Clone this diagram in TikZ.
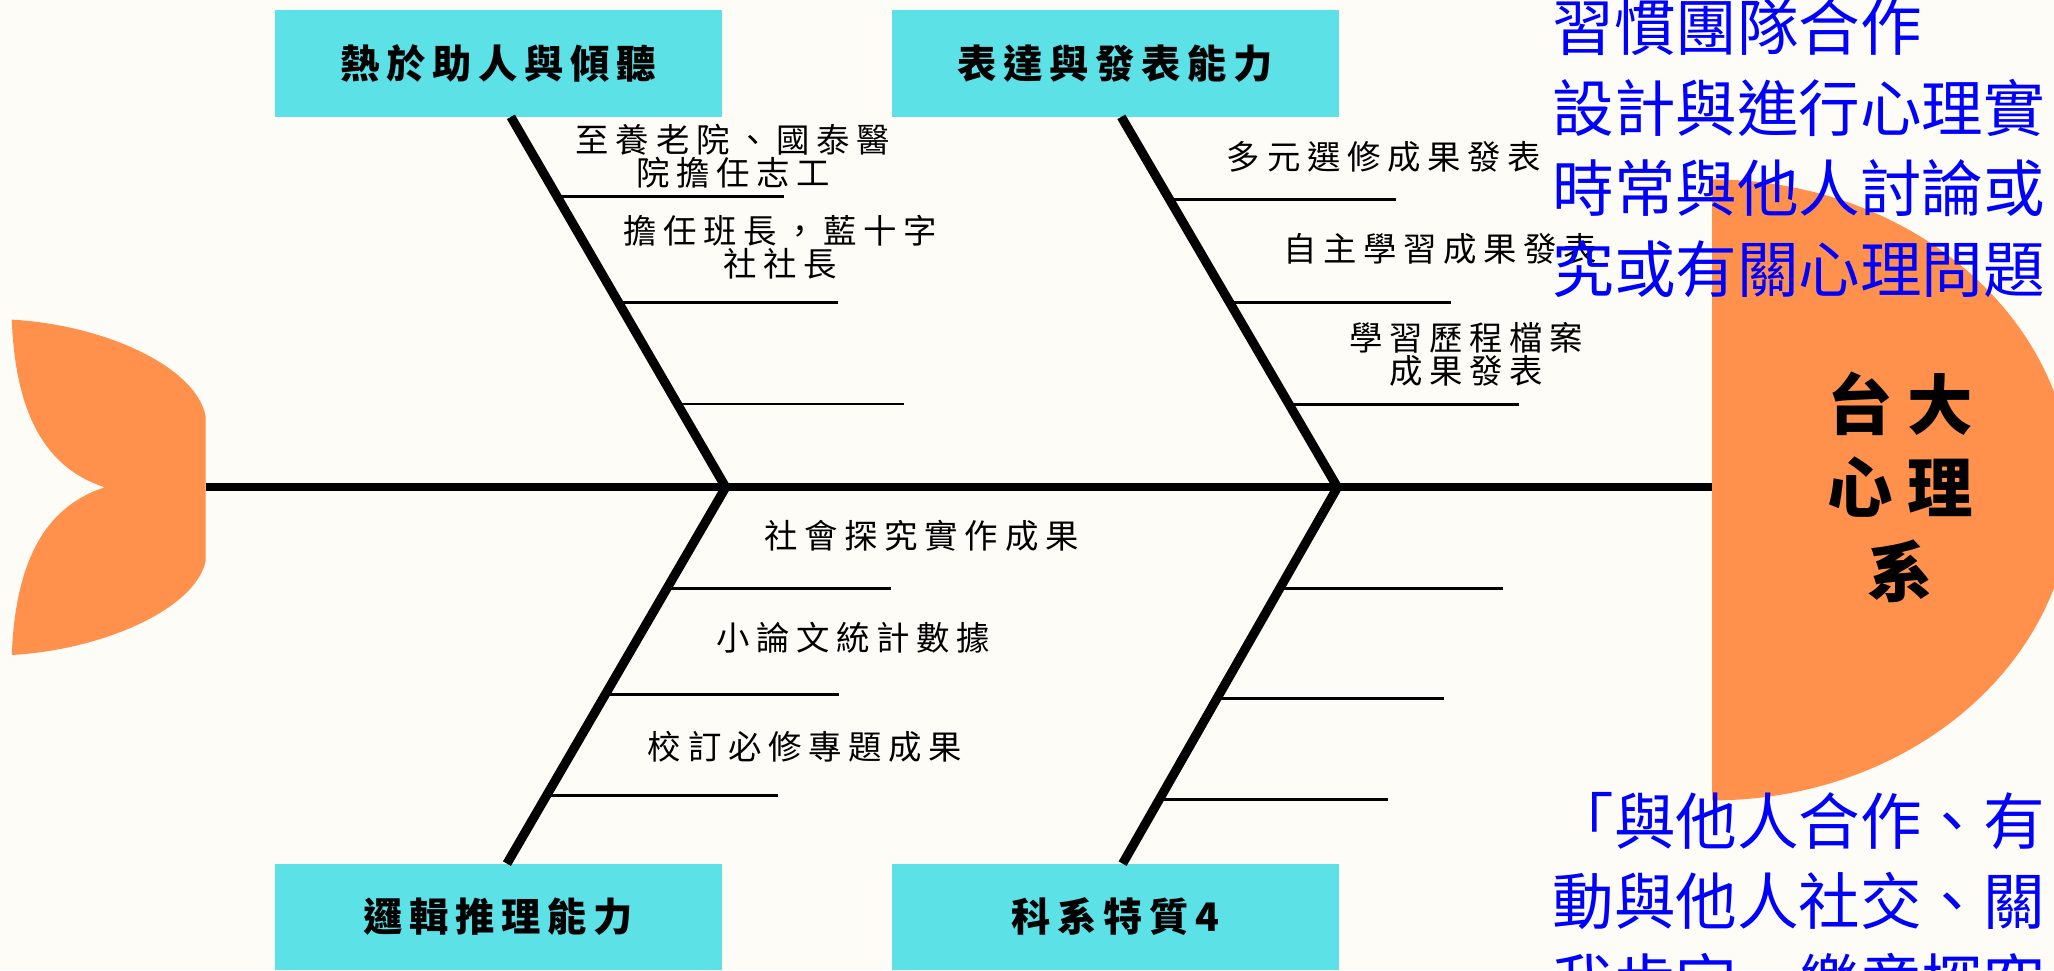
\documentclass[tikz,border=0pt]{standalone}
\usepackage{fontspec}
\setmainfont{Noto Sans CJK TC}
\newfontfamily\catfont[LetterSpace=17]{Noto Sans CJK TC}
\newfontfamily\headfont[LetterSpace=22]{Noto Sans CJK TC}
\newfontfamily\itemfont[LetterSpace=20]{Noto Sans CJK TC}
\newfontfamily\notefont{Noto Sans CJK TC}
\usetikzlibrary{calc}

\definecolor{paper}{RGB}{253,252,247}
\definecolor{fishcyan}{RGB}{92,225,230}
\definecolor{fishorange}{RGB}{255,145,77}
\definecolor{noteblue}{RGB}{0,0,255}

\tikzset{
	catbox/.style={fill=fishcyan, minimum width=341pt, minimum height=81pt, inner sep=0pt,
		font=\catfont\bfseries\fontsize{30}{32}\selectfont},
	headlabel/.style={align=center, inner sep=0pt, xshift=5.5pt,
		font=\headfont\bfseries\fontsize{50}{63.5}\selectfont},
	spine/.style={line width=6pt},
	bone/.style={line width=7pt},
	rib/.style={line width=2.2pt},
	item/.style={align=center, inner sep=0pt, xshift=2.5pt,
		font=\itemfont\fontsize{25.5}{25}\selectfont},
	note/.style={align=left, anchor=west, inner sep=0pt, text=noteblue,
		font=\notefont\fontsize{47}{61.5}\selectfont},
}

\begin{document}
\begin{tikzpicture}[x=1pt,y=-1pt]
	\fill[paper] (0,0) rectangle (1568,740.5);
	\useasboundingbox (0,0) rectangle (1568,740.5);
	
	%Schwanz und Kopf
	\fill[fishorange] (9,244) .. controls (80,248) and (150,280) .. (157,318) -- (157,428)
		.. controls (150,464) and (80,496) .. (9,500) .. controls (12,420) and (40,385) .. (80,372)
		.. controls (40,359) and (12,324) .. (9,244) -- cycle;
	\fill[fishorange] (1307,137) arc[start angle=90, end angle=-90, x radius=275pt, y radius=237pt] -- cycle;
	
	%Hauptgraete
	\coordinate (tail) at (157,372);
	\coordinate (head) at (1307,372);
	\coordinate (j1) at (554,372);
	\coordinate (j2) at (1021,372);
	\draw[spine] (tail) -- (head);
	
	%Kategorien
	\node[catbox] (c1) at (380.5,48.5) {熱於助人與傾聽};
	\node[catbox] (c2) at (851.5,48.5) {表達與發表能力};
	\node[catbox] (c3) at (380.5,700) {邏輯推理能力};
	\node[catbox] (c4) at (851.5,700) {科系特質4};
	
	\coordinate (b1) at ($(c1.south)+(9.5,0)$);
	\coordinate (b2) at ($(c2.south)+(4.5,0)$);
	\coordinate (b3) at ($(c3.north)+(6.5,0)$);
	\coordinate (b4) at ($(c4.north)+(5.5,0)$);
	\draw[bone] (b1) -- (j1) -- (b3);
	\draw[bone] (b2) -- (j2) -- (b4);
	
	%Nebengraeten
	\foreach \t/\l [count=\i] in {0.215/173,0.5/168,0.775/173}
	\draw[rib] ($(b1)!\t!(j1)$) coordinate (ul\i) -- ++(\l,0);
	\foreach \t/\l [count=\i] in {0.223/173,0.502/169,0.777/175}
	\draw[rib] ($(b2)!\t!(j2)$) coordinate (ur\i) -- ++(\l,0);
	\foreach \t/\l [count=\i] in {0.27/171,0.55/178,0.82/177}
	\draw[rib] ($(j1)!\t!(b3)$) coordinate (ll\i) -- ++(\l,0);
	\foreach \t/\l [count=\i] in {0.27/171,0.56/173,0.83/175}
	\draw[rib] ($(j2)!\t!(b4)$) coordinate (lr\i) -- ++(\l,0);
	
	%Texte
	\node[item] (i1) at (557,119.5) {至養老院、國泰醫\\院擔任志工};
	\node[item] (i2) at (593,189) {擔任班長，藍十字\\社社長};
	\node[item] (i3) at (1054,120) {多元選修成果發表};
	\node[item] (i4) at (1097,190) {自主學習成果發表};
	\node[item] (i5) at (1117,270.5) {學習歷程檔案\\成果發表};
	\node[item] (i6) at (701,409) {社會探究實作成果};
	\node[item] (i7) at (649,487) {小論文統計數據};
	\node[item] (i8) at (612,570) {校訂必修專題成果};
	
	\node[headlabel] (dept) at (1445,372) {台大\\心理\\系};
	
	\node[note] (n1) at (1185,113) {習慣團隊合作\\設計與進行心理實\\時常與他人討論或\\究或有關心理問題};
	\node[note] (n2) at (1185,688) {「與他人合作、有\\動與他人社交、關\\我肯定、樂意探究};
	
\end{tikzpicture}
\end{document}
